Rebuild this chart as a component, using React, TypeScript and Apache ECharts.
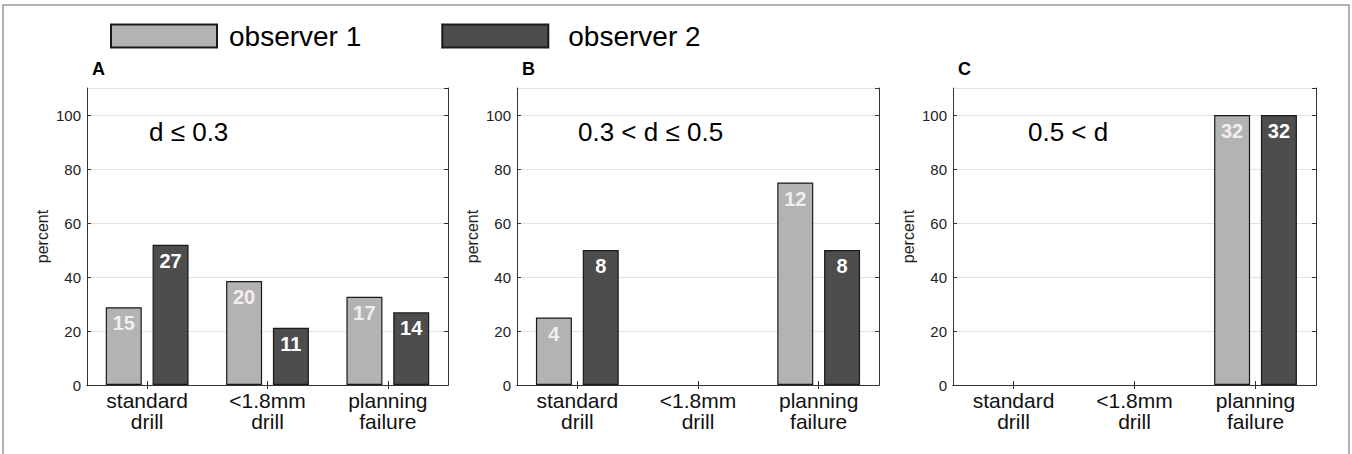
import React, { useEffect, useRef } from "react";
import * as echarts from "echarts";

const categories = ["standard\ndrill", "<1.8mm\ndrill", "planning\nfailure"];
const seriesNames = ["observer 1", "observer 2"];
const panelLetters = ["A", "B", "C"];
const panelConditions = ["d \u2264 0.3", "0.3 < d \u2264 0.5", "0.5 < d"];
// percent values per panel
const obs1PercentA = [28.8, 38.5, 32.7];
const obs2PercentA = [51.9, 21.2, 26.9];
const obs1PercentB = [25, 0, 75];
const obs2PercentB = [50, 0, 50];
const obs1PercentC = [0, 0, 100];
const obs2PercentC = [0, 0, 100];
// counts shown inside bars
const obs1CountA = [15, 20, 17];
const obs2CountA = [27, 11, 14];
const obs1CountB = [4, 0, 12];
const obs2CountB = [8, 0, 8];
const obs1CountC = [0, 0, 32];
const obs2CountC = [0, 0, 32];
const yTicks = [0, 20, 40, 60, 80, 100];

const FONT = "Liberation Sans, Arial, Helvetica, sans-serif";

export default function App() {
  const ref = useRef<HTMLDivElement>(null);
  useEffect(() => {
    if (!ref.current) return;
    const chart = echarts.init(ref.current, null, { renderer: "svg" });
    const grids = [
      { left: 87, top: 88, width: 361, height: 297 },
      { left: 517, top: 88, width: 362, height: 297 },
      { left: 953, top: 88, width: 363, height: 297 },
    ];
    const percents = [
      [obs1PercentA, obs2PercentA],
      [obs1PercentB, obs2PercentB],
      [obs1PercentC, obs2PercentC],
    ];
    const counts = [
      [obs1CountA, obs2CountA],
      [obs1CountB, obs2CountB],
      [obs1CountC, obs2CountC],
    ];
    const colors = ["#b3b3b3", "#4d4d4d"];
    const labelColors = ["#f3eeee", "#ffffff"];

    const xAxis: any[] = [];
    const yAxis: any[] = [];
    const series: any[] = [];
    const graphic: any[] = [
      {
        type: "rect",
        shape: { x: 3, y: 5, width: 1346, height: 470 },
        style: { fill: "none", stroke: "#999", lineWidth: 1.5 },
        silent: true,
      },
    ];

    grids.forEach((g, i) => {
      xAxis.push({
        type: "category",
        gridIndex: i,
        data: categories,
        position: "bottom",
        axisLine: { show: true, lineStyle: { color: "#333", width: 1 } },
        axisTick: { show: true, inside: true, alignWithLabel: true, length: 4, lineStyle: { color: "#333" } },
        axisLabel: { fontFamily: FONT, fontSize: 21, color: "#111", lineHeight: 21, margin: 5, interval: 0 },
        splitLine: { show: false },
      });
      xAxis.push({
        type: "category",
        gridIndex: i,
        data: categories,
        position: "top",
        axisLine: { show: true, lineStyle: { color: "#333", width: 1 } },
        axisTick: { show: true, inside: true, alignWithLabel: true, length: 4, lineStyle: { color: "#333" } },
        axisLabel: { show: false },
        splitLine: { show: false },
      });
      yAxis.push({
        type: "value",
        gridIndex: i,
        min: 0,
        max: 110,
        interval: 20,
        position: "left",
        name: "percent",
        nameLocation: "middle",
        nameRotate: 90,
        nameGap: 37,
        nameTextStyle: { fontFamily: FONT, fontSize: 16, color: "#222" },
        axisLine: { show: true, lineStyle: { color: "#333", width: 1 } },
        axisTick: { show: true, inside: true, length: 4, lineStyle: { color: "#333" } },
        axisLabel: {
          fontFamily: FONT,
          fontSize: 15,
          color: "#222",
          margin: 6,
          showMaxLabel: false,
          formatter: (v: number) => (yTicks.includes(v) ? String(v) : ""),
        },
        splitLine: { show: true, lineStyle: { color: "#e2e2e2", width: 1 } },
      });
      yAxis.push({
        type: "value",
        gridIndex: i,
        min: 0,
        max: 110,
        interval: 20,
        position: "right",
        axisLine: { show: true, lineStyle: { color: "#333", width: 1 } },
        axisTick: { show: true, inside: true, length: 4, lineStyle: { color: "#333" } },
        axisLabel: { show: false },
        splitLine: { show: false },
      });
      seriesNames.forEach((name, s) => {
        const cnt = counts[i][s];
        series.push({
          type: "bar",
          name,
          xAxisIndex: i * 2,
          yAxisIndex: i * 2,
          data: percents[i][s].map((v) => (v === 0 ? "-" : v)),
          barWidth: 36,
          barGap: "30%",
          itemStyle: { color: colors[s], borderColor: "#1a1a1a", borderWidth: 1.2 },
          label: {
            show: true,
            position: "insideTop",
            distance: 6,
            fontFamily: FONT,
            fontSize: 20,
            fontWeight: "bold",
            color: labelColors[s],
            formatter: (p: any) => (cnt[p.dataIndex] > 0 ? String(cnt[p.dataIndex]) : ""),
          },
          silent: true,
        });
      });
      graphic.push({
        type: "text",
        x: g.left + 5,
        y: 69,
        style: {
          text: panelLetters[i],
          fontFamily: FONT,
          fontSize: 18,
          fontWeight: "bold",
          fill: "#000",
          verticalAlign: "middle",
        },
      });
      graphic.push({
        type: "text",
        x: [149, 578, 1028][i],
        y: 132,
        style: {
          text: panelConditions[i],
          fontFamily: FONT,
          fontSize: 26,
          fill: "#000",
          verticalAlign: "middle",
        },
      });
    });

    chart.setOption({
      animation: false,
      backgroundColor: "#fff",
      legend: {
        left: 110,
        top: 22,
        padding: 0,
        itemWidth: 106,
        itemHeight: 23,
        itemGap: 80,
        icon: "rect",
        data: [
          { name: seriesNames[0], textStyle: { padding: [0, 0, 0, 7] } },
          { name: seriesNames[1], textStyle: { padding: [0, 0, 0, 15] } },
        ],
        textStyle: { fontFamily: FONT, fontSize: 28, color: "#000" },
        selectedMode: false,
      },
      grid: grids.map((g) => ({ ...g, show: false, containLabel: false })),
      xAxis,
      yAxis,
      series,
      graphic,
    });
    return () => chart.dispose();
  }, []);
  return (
    <div
      ref={ref}
      style={{ position: "fixed", left: 0, top: 0, width: 1352, height: 454, background: "#fff" }}
    />
  );
}
